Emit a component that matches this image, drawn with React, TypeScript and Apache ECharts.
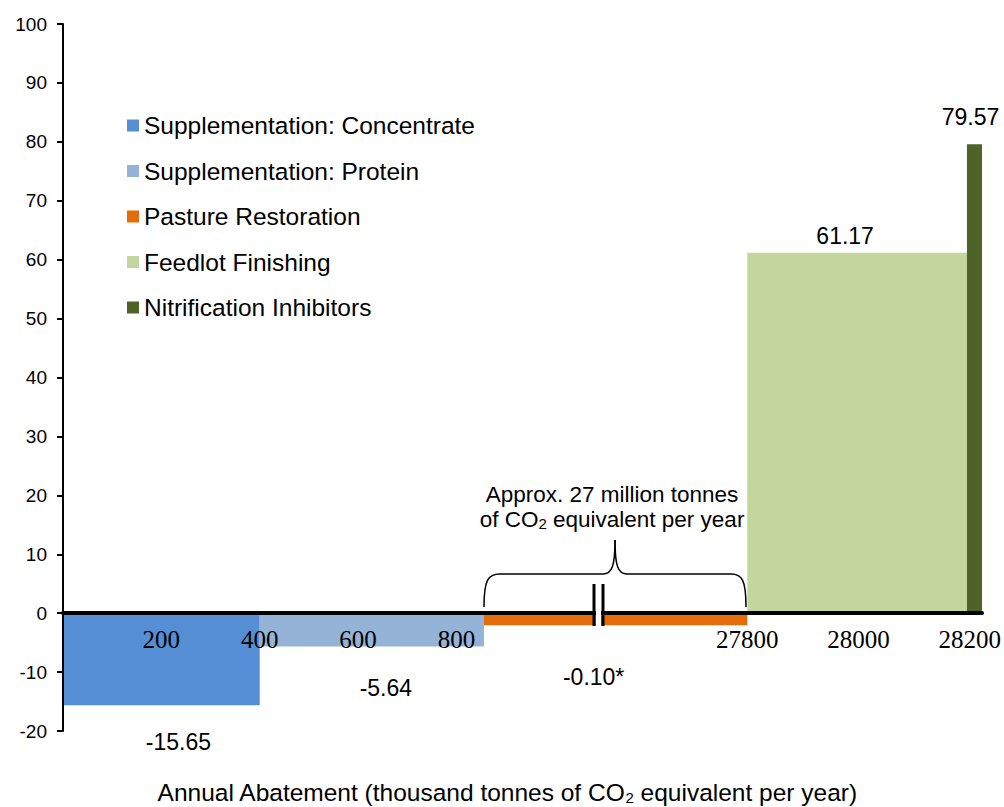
import React, { useEffect, useRef } from "react";
import * as echarts from "echarts";

// ---- data ----
const categories = [
  "Supplementation: Concentrate",
  "Supplementation: Protein",
  "Pasture Restoration",
  "Feedlot Finishing",
  "Nitrification Inhibitors",
];
const abatementStart = [0, 400, 856, 27800, 28195];
const abatementEnd = [400, 856, 27800, 28195, 28222];
const costs = [-15.65, -5.64, -0.1, 61.17, 79.57];
const valueLabels = ["-15.65", "-5.64", "-0.10*", "61.17", "79.57"];
const xTickValues = [200, 400, 600, 800, 27800, 28000, 28200];
const yMin = -20;
const yMax = 100;
const yInterval = 10;

// ---- styling ----
const colors = ["#558ED5", "#95B3D7", "#E46C0A", "#C3D69B", "#4F6228"];
// label offsets: [dx from bar centre, distance of label centre beyond bar end]
const labelOffsets = [
  [17, 37],
  [14, 42],
  [-22, 52],
  [-12, 17],
  [-4, 27],
];
const SANS = "'Liberation Sans', Arial, sans-serif";
const SERIF = "'Liberation Serif', 'Times New Roman', serif";

const GRID = { left: 63, right: 20, top: 24, bottom: 76 };
const CHART_H = 807;

// axis break: hidden range BREAK_LO..BREAK_HI, right part drawn at a wider scale
const BREAK_LO = 1085;
const BREAK_HI = 27529;
const RIGHT_SCALE = 1.1308;
const toD = (x: number) => (x <= BREAK_LO ? x : BREAK_LO + (x - BREAK_HI) * RIGHT_SCALE);
const fromD = (d: number) => (d <= BREAK_LO ? d : BREAK_HI + (d - BREAK_LO) / RIGHT_SCALE);
const X_MAX_D = toD(28222);
const MIN_BAR_PX = 12;

export default function App() {
  const ref = useRef<HTMLDivElement>(null);
  useEffect(() => {
    if (!ref.current) return;
    const chart = echarts.init(ref.current, undefined, { renderer: "svg" });

    const gridH = CHART_H - GRID.top - GRID.bottom;
    const zeroOffset = -((0 - yMin) / (yMax - yMin)) * gridH;

    const series = categories.map((name, i) => ({
      type: "custom" as const,
      name,
      itemStyle: { color: colors[i] },
      encode: { x: [0, 1], y: 2 },
      z: 2,
      data: [[toD(abatementStart[i]), toD(abatementEnd[i]), costs[i]]],
      renderItem: (params: any, api: any) => {
        const s = api.coord([api.value(0), 0]);
        const e = api.coord([api.value(1), api.value(2)]);
        const x = s[0];
        const w = e[0] - s[0];
        const y0 = s[1];
        let y1 = e[1];
        if (Math.abs(y1 - y0) < MIN_BAR_PX) y1 = y0 + (costs[i] < 0 ? MIN_BAR_PX : -MIN_BAR_PX);
        const top = Math.min(y0, y1);
        const h = Math.abs(y1 - y0);
        const [dx, dy] = labelOffsets[i];
        const ly = costs[i] < 0 ? top + h + dy : top - dy;
        return {
          type: "group",
          children: [
            { type: "rect", shape: { x, y: top, width: w, height: h }, style: { fill: colors[i] } },
            {
              type: "text",
              x: x + w / 2 + dx,
              y: ly,
              style: {
                text: valueLabels[i],
                fill: "#000",
                font: `23px ${SANS}`,
                align: "center",
                verticalAlign: "middle",
              },
            },
          ],
        };
      },
    }));

    const line = (x1: number, y1: number, x2: number, y2: number) => ({
      type: "line",
      shape: { x1, y1, x2, y2 },
      style: { stroke: "#000", lineWidth: 1.5 },
      z: 20,
    });
    const curve = (x1: number, y1: number, cpx1: number, cpy1: number, cpx2: number, cpy2: number, x2: number, y2: number) => ({
      type: "bezierCurve",
      shape: { x1, y1, cpx1, cpy1, cpx2, cpy2, x2, y2 },
      style: { stroke: "#000", lineWidth: 1.5, fill: null },
      z: 20,
    });
    const subRich = (size: number) => ({
      a: { font: `${size}px ${SANS}`, fill: "#000", lineHeight: 26, verticalAlign: "bottom" },
      s: { font: `15px ${SANS}`, fill: "#000", lineHeight: 8, verticalAlign: "bottom" },
    });

    chart.setOption({
      animation: false,
      backgroundColor: "#fff",
      grid: GRID,
      legend: {
        orient: "vertical",
        left: 122,
        top: 108,
        itemWidth: 12,
        itemHeight: 12,
        itemGap: 20.5,
        icon: "rect",
        data: categories,
        textStyle: { fontFamily: SANS, fontSize: 24.5, color: "#000" },
      },
      xAxis: {
        type: "value",
        min: 0,
        max: X_MAX_D,
        z: 10,
        offset: zeroOffset,
        splitLine: { show: false },
        axisLine: { onZero: false, lineStyle: { color: "#000", width: 4 } },
        axisTick: { show: false },
        axisLabel: {
          customValues: xTickValues.map(toD),
          margin: 14,
          fontFamily: SERIF,
          fontSize: 25,
          color: "#000",
          formatter: (v: number) => String(Math.round(fromD(v))),
        },
      },
      yAxis: {
        type: "value",
        min: yMin,
        max: yMax,
        interval: yInterval,
        z: 10,
        splitLine: { show: false },
        axisLine: { show: true, onZero: false, lineStyle: { color: "#000", width: 2 } },
        axisTick: { show: true, length: 6, lineStyle: { color: "#000", width: 2 } },
        axisLabel: { margin: 16, fontFamily: SANS, fontSize: 19, color: "#000" },
      },
      series,
      graphic: [
        // axis break marker
        { type: "rect", shape: { x: 596, y: 584, width: 5, height: 42 }, style: { fill: "#fff" }, z: 20 },
        { type: "line", shape: { x1: 594, y1: 584, x2: 594, y2: 626 }, style: { stroke: "#000", lineWidth: 3 }, z: 21 },
        { type: "line", shape: { x1: 603, y1: 584, x2: 603, y2: 626 }, style: { stroke: "#000", lineWidth: 3 }, z: 21 },
        // brace
        curve(484, 607, 484, 580, 488, 574, 500, 574),
        line(500, 574, 603, 574),
        curve(603, 574, 612, 574, 615, 566, 615, 540),
        curve(615, 540, 615, 566, 618, 574, 627, 574),
        line(627, 574, 731, 574),
        curve(731, 574, 742, 574, 746, 580, 746, 607),
        {
          type: "text",
          x: 612,
          y: 494,
          z: 20,
          style: {
            text: "Approx. 27 million tonnes",
            font: `22.5px ${SANS}`,
            fill: "#000",
            align: "center",
            verticalAlign: "middle",
          },
        },
        {
          type: "text",
          x: 612,
          y: 518,
          z: 20,
          style: {
            text: "{a|of CO}{s|2}{a| equivalent per year}",
            fill: "#000",
            align: "center",
            verticalAlign: "middle",
            rich: subRich(22.5),
          },
        },
        {
          type: "text",
          x: 507,
          y: 792,
          z: 20,
          style: {
            text: "{a|Annual Abatement (thousand tonnes of CO}{s|2}{a| equivalent per year)}",
            fill: "#000",
            align: "center",
            verticalAlign: "middle",
            rich: subRich(24.5),
          },
        },
      ],
    });
    return () => chart.dispose();
  }, []);
  return <div ref={ref} style={{ width: 1004, height: 807, position: "absolute", left: 0, top: 0 }} />;
}
